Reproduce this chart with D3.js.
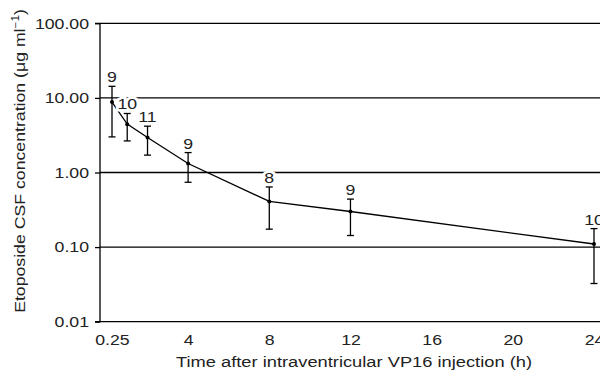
<!DOCTYPE html>
<html>
<head>
<meta charset="utf-8">
<script src="https://cdn.jsdelivr.net/npm/d3@7"></script>
<style>
  body { margin: 0; background: #fff; }
  svg { display: block; font-family: "Liberation Sans", Arial, sans-serif; }
</style>
</head>
<body>
<div id="vis"></div>
<script>
// data
const times = [0.25, 1, 2, 4, 8, 12, 24];
const means = [8.8, 4.45, 2.95, 1.32, 0.41, 0.30, 0.11];
const upper = [14.3, 6.18, 4.18, 1.85, 0.64, 0.44, 0.177];
const lower = [3.0, 2.65, 1.71, 0.74, 0.174, 0.143, 0.0325];
const counts = [9, 10, 11, 9, 8, 9, 10];

const xTicks = [0.25, 4, 8, 12, 16, 20, 24];
const yTicks = [0.01, 0.1, 1, 10, 100];

const width = 600, height = 375;
const SX = 1.18; // text in the source is a bit wide

const svg = d3.select("#vis").append("svg")
    .attr("width", width)
    .attr("height", height);

const x = d3.scaleLinear().domain([0.25, 24]).range([112, 594]);
const y = d3.scaleLog().domain([0.01, 100]).range([321.7, 23.3]);

const points = times.map((t, i) => ({ t: t, m: means[i], hi: upper[i], lo: lower[i], n: counts[i] }));

// horizontal grid lines at each decade
svg.append("g")
    .selectAll("line")
    .data(yTicks)
    .join("line")
    .attr("x1", 100)
    .attr("x2", width)
    .attr("y1", d => y(d))
    .attr("y2", d => y(d))
    .attr("stroke", "#000")
    .attr("stroke-width", 1.3);

// y axis
const yAxis = svg.append("g")
    .attr("transform", "translate(100,0)")
    .call(d3.axisLeft(y).tickValues(yTicks).tickSize(5).tickPadding(6).tickFormat(d3.format(".2f")));
yAxis.select(".domain").attr("stroke", "#000").attr("stroke-width", 1.3);
yAxis.selectAll(".tick line").attr("stroke", "#000").attr("stroke-width", 1.3);
yAxis.selectAll("text")
    .attr("font-size", 15)
    .attr("fill", "#222")
    .attr("font-family", null)
    .each(function () {
        const t = d3.select(this);
        const tx = +t.attr("x");
        t.attr("x", 0).attr("transform", `translate(${tx},0) scale(${SX},1)`);
    });
yAxis.select(".domain").attr("d", `M-5,${y(100)}H0V${y(0.01)}H-5`);

// x axis tick labels (no tick marks in the source)
const xAxis = svg.append("g")
    .attr("transform", `translate(0,${y(0.01)})`)
    .call(d3.axisBottom(x).tickValues(xTicks).tickSize(0).tickPadding(13).tickFormat(d => d));
xAxis.select(".domain").remove();
xAxis.selectAll("text")
    .attr("font-size", 15)
    .attr("fill", "#222")
    .attr("font-family", null)
    .attr("transform", `scale(${SX},1)`)
    .attr("x", 0);

// axis titles
svg.append("text")
    .attr("transform", `translate(354,367) scale(1.22,1)`)
    .attr("text-anchor", "middle")
    .attr("font-size", 15)
    .attr("fill", "#222")
    .text("Time after intraventricular VP16 injection (h)");

const yTitle = svg.append("text")
    .attr("transform", `translate(25,161) rotate(-90) scale(${SX},1)`)
    .attr("text-anchor", "middle")
    .attr("font-size", 15)
    .attr("fill", "#222");
yTitle.append("tspan").text("Etoposide CSF concentration (μg ml");
yTitle.append("tspan").attr("font-size", 10).attr("dy", -6).text("−1");
yTitle.append("tspan").attr("dy", 6).text(")");

// mean line
svg.append("path")
    .datum(points)
    .attr("fill", "none")
    .attr("stroke", "#000")
    .attr("stroke-width", 1.3)
    .attr("d", d3.line().x(d => x(d.t)).y(d => y(d.m)));

// error bars
const bars = svg.append("g")
    .attr("stroke", "#000")
    .attr("stroke-width", 1.3)
    .selectAll("g")
    .data(points)
    .join("g");

bars.append("line")
    .attr("x1", d => x(d.t)).attr("x2", d => x(d.t))
    .attr("y1", d => y(d.hi)).attr("y2", d => y(d.lo));
bars.append("line")
    .attr("x1", d => x(d.t) - 3.5).attr("x2", d => x(d.t) + 3.5)
    .attr("y1", d => y(d.hi)).attr("y2", d => y(d.hi));
bars.append("line")
    .attr("x1", d => x(d.t) - 3.5).attr("x2", d => x(d.t) + 3.5)
    .attr("y1", d => y(d.lo)).attr("y2", d => y(d.lo));

// points
svg.append("g")
    .selectAll("circle")
    .data(points)
    .join("circle")
    .attr("cx", d => x(d.t))
    .attr("cy", d => y(d.m))
    .attr("r", 2)
    .attr("fill", "#000");

// sample size labels, white halo breaks the grid lines
svg.append("g")
    .selectAll("text")
    .data(points)
    .join("text")
    .attr("transform", d => `translate(${x(d.t)},${y(d.hi) - 4}) scale(${SX},1)`)
    .attr("text-anchor", "middle")
    .attr("font-size", 15)
    .attr("fill", "#222")
    .attr("stroke", "#fff")
    .attr("stroke-width", 5)
    .attr("paint-order", "stroke")
    .text(d => d.n);
</script>
</body>
</html>
